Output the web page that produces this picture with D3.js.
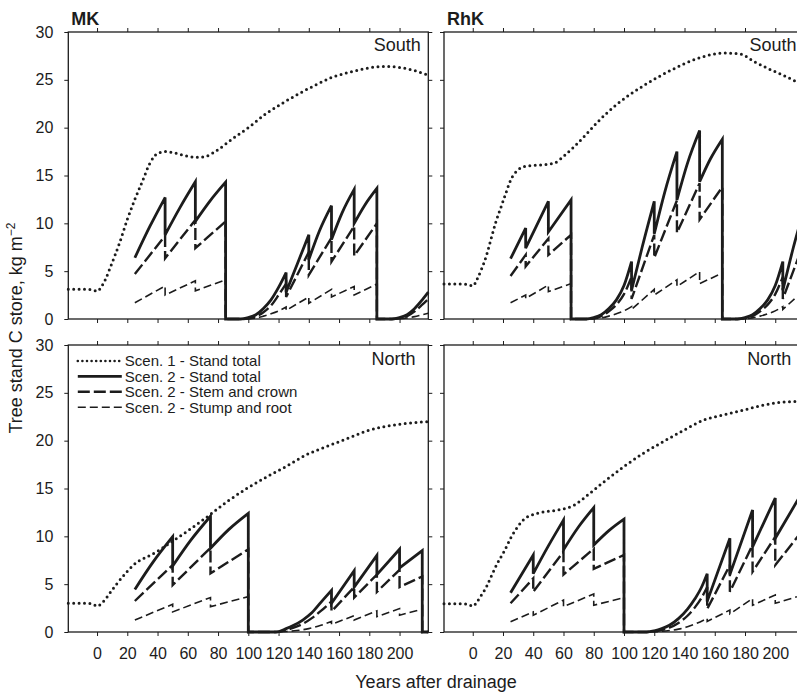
<!DOCTYPE html>
<html>
<head>
<meta charset="utf-8">
<script src="https://cdn.jsdelivr.net/npm/d3@7"></script>
<style>
  body { margin: 0; background: #fff; overflow: hidden; }
  svg { display: block; font-family: "Liberation Sans", Arial, Helvetica, sans-serif; }
</style>
</head>
<body>
<div id="chart"></div>
<script>
// values: [years after drainage, kg C m-2]
const xTicks = [0, 20, 40, 60, 80, 100, 120, 140, 160, 180, 200];
const yTicks = [0, 5, 10, 15, 20, 25, 30];
const siteNames = ["MK", "RhK"];
const regionNames = ["South", "North"];
const seriesNames = ["Scen. 1 - Stand total", "Scen. 2 - Stand total", "Scen. 2 - Stem and crown", "Scen. 2 - Stump and root"];

// MK, South
const mkSouthScen1 = [[-19,3.1],[-10,3.1],[-3,3.05],[0,2.9],[3,3.4],[6,4.3],[9,5.5],[15,8.0],[20,10.4],[25,12.5],[30,14.4],[35,16.3],[40,17.3],[45,17.5],[50,17.4],[55,17.2],[60,17.0],[66,16.9],[72,17.0],[79,17.6],[90,18.9],[100,20.0],[112,21.5],[123,22.6],[134,23.6],[145,24.5],[156,25.3],[167,25.8],[178,26.2],[190,26.4],[200,26.3],[209,26.0],[219,25.5]];
const mkSouthTotal = [[25,6.4],[35,9.7],[45,12.7],[45,8.8],[55,11.7],[65,14.35],[65,10.2],[75,12.4],[85,14.3],[85,0],[95,0],[100,0.15],[105,0.45],[110,1.1],[115,2.0],[120,3.3],[125,4.85],[125,2.8],[132,5.6],[140,8.8],[140,6.2],[147,9.2],[155,11.85],[155,8.3],[162,11.1],[170,13.55],[170,10.0],[177,11.9],[185,13.65],[185,0],[195,0],[200,0.15],[205,0.45],[210,1.1],[215,2.0],[219,2.8]];
const mkSouthStem = [[25,4.7],[45,8.7],[45,6.35],[65,10.35],[65,7.4],[85,10.2],[85,0],[95,0],[100,0.05],[105,0.25],[110,0.7],[115,1.4],[120,2.5],[125,3.7],[125,2.3],[140,7.0],[140,4.6],[155,8.5],[155,6.0],[170,9.7],[170,6.6],[185,10.0],[185,0],[195,0],[200,0.08],[205,0.3],[210,0.8],[215,1.5],[219,2.1]];
const mkSouthStump = [[25,1.7],[45,3.45],[45,2.5],[65,4.0],[65,2.95],[85,4.1],[85,0],[95,0],[100,0.03],[105,0.1],[110,0.3],[115,0.55],[120,0.85],[125,1.25],[125,0.9],[140,2.3],[140,1.65],[155,3.1],[155,2.3],[170,3.4],[170,2.5],[185,3.65],[185,0],[195,0],[200,0.02],[205,0.1],[210,0.25],[215,0.45],[219,0.6]];

// RhK, South
const rhkSouthScen1 = [[-19,3.65],[-10,3.65],[-3,3.6],[0,3.45],[3,4.2],[5.5,5.1],[9,6.6],[12,8.3],[15,10.0],[18.7,11.7],[22,13.2],[25,14.5],[30,15.6],[36,16.0],[45,16.1],[54,16.3],[60,17.0],[67,18.0],[75,19.3],[82,20.5],[95,22.4],[113,24.4],[131,26.0],[148,27.2],[166,27.8],[177,27.7],[186,26.9],[195,26.2],[205,25.5],[214,24.8],[219,24.4]];
const rhkSouthTotal = [[25,6.3],[35,9.5],[35,7.4],[50,12.3],[50,9.1],[65,12.45],[65,0],[75,0],[80,0.15],[85,0.45],[90,1.1],[95,2.0],[100,3.5],[105,6.0],[105,3.0],[112,7.5],[120,12.3],[120,8.9],[127,13.3],[135,17.5],[135,12.45],[142,16.3],[150,19.7],[150,14.35],[157,16.7],[165,18.8],[165,0],[175,0],[180,0.15],[185,0.45],[190,1.1],[195,2.0],[200,3.5],[205,6.0],[205,3.0],[212,7.5],[219,11.5]];
const rhkSouthStem = [[25,4.5],[35,6.7],[35,5.5],[50,8.4],[50,6.7],[65,8.8],[65,0],[75,0],[80,0.08],[85,0.3],[90,0.8],[95,1.5],[100,2.6],[105,4.4],[105,2.1],[120,8.8],[120,6.4],[135,12.4],[135,9.0],[150,14.2],[150,10.4],[165,13.8],[165,0],[175,0],[180,0.08],[185,0.3],[190,0.8],[195,1.5],[200,2.6],[205,4.4],[205,2.1],[219,8.0]];
const rhkSouthStump = [[25,1.7],[35,2.5],[35,2.15],[50,3.55],[50,2.85],[65,3.7],[65,0],[75,0],[80,0.03],[85,0.12],[90,0.3],[95,0.55],[100,0.85],[105,1.3],[105,1.0],[120,3.1],[120,2.5],[135,4.1],[135,3.4],[150,4.95],[150,3.7],[165,4.8],[165,0],[175,0],[180,0.03],[185,0.12],[190,0.3],[195,0.55],[200,0.85],[205,1.3],[205,1.0],[219,3.0]];

// MK, North
const mkNorthScen1 = [[-19,3.0],[-10,3.0],[-3,2.95],[0,2.7],[3,3.0],[6.6,3.66],[10,4.4],[13.2,5.06],[19.8,6.3],[26.4,7.3],[33,7.85],[39.6,8.4],[46,9.07],[59.3,10.5],[72.5,12.0],[85.7,13.6],[99,15.0],[112,16.2],[125,17.3],[138,18.5],[152,19.4],[165,20.2],[178,21.0],[191,21.5],[204,21.8],[219,22.0]];
const mkNorthTotal = [[25,4.45],[37,7.3],[50,9.96],[50,6.9],[62,9.6],[75,12.1],[75,8.75],[87,10.7],[100,12.4],[100,0],[118,0],[125,0.35],[130,0.7],[136,1.25],[142,2.0],[148,3.1],[155,4.35],[155,3.0],[170,6.4],[170,4.7],[185,8.0],[185,6.0],[200,8.65],[200,6.7],[215,8.5],[215,0],[219,0]];
const mkNorthStem = [[25,3.24],[50,7.0],[50,4.9],[75,8.8],[75,6.13],[100,8.64],[100,0],[118,0],[125,0.2],[130,0.45],[136,0.85],[142,1.45],[148,2.2],[155,3.2],[155,2.15],[170,4.7],[170,3.6],[185,6.0],[185,4.2],[200,6.5],[200,4.7],[215,5.8],[215,0],[219,0]];
const mkNorthStump = [[25,1.25],[50,2.9],[50,2.1],[75,3.6],[75,2.65],[100,3.7],[100,0],[118,0],[125,0.05],[132,0.15],[140,0.35],[148,0.7],[155,1.1],[155,0.8],[170,1.7],[170,1.25],[185,2.2],[185,1.6],[200,2.45],[200,1.75],[215,2.4],[215,0],[219,0]];

// RhK, North
const rhkNorthScen1 = [[-19,2.96],[-10,2.96],[-3,2.9],[0,2.7],[3,3.2],[5.5,3.8],[9,4.7],[12,5.75],[16,7.1],[21,8.5],[25,9.8],[29.7,11.0],[34,11.8],[38.5,12.2],[47,12.55],[58,12.8],[67,13.25],[75.8,14.3],[86.8,15.7],[100,17.3],[113,18.7],[126,19.9],[139.6,21.1],[152.7,22.15],[166,22.7],[179,23.2],[192,23.7],[203,24.0],[214,24.1],[219,24.15]];
const rhkNorthTotal = [[25,4.1],[40,8.05],[40,6.1],[50,9.0],[60,11.7],[60,8.6],[70,11.0],[80,13.0],[80,9.1],[90,10.6],[100,11.8],[100,0],[115,0],[120,0.12],[125,0.35],[130,0.7],[136,1.4],[142,2.4],[147,3.5],[151,4.6],[155,6.1],[155,3.2],[170,9.8],[170,6.0],[185,12.75],[185,8.9],[200,14.0],[200,9.8],[219,14.9]];
const rhkNorthStem = [[25,3.0],[40,5.6],[40,4.2],[60,8.4],[60,6.0],[80,8.7],[80,6.6],[100,8.05],[100,0],[115,0],[120,0.06],[125,0.2],[130,0.45],[136,0.95],[142,1.7],[147,2.6],[151,3.5],[155,4.7],[155,2.4],[170,7.0],[170,4.2],[185,9.1],[185,6.3],[200,9.95],[200,7.0],[219,10.8]];
const rhkNorthStump = [[25,1.08],[40,2.1],[40,1.75],[60,3.34],[60,2.65],[80,3.97],[80,2.8],[100,3.6],[100,0],[115,0],[120,0.02],[125,0.07],[130,0.15],[136,0.3],[142,0.55],[148,0.9],[155,1.43],[155,1.1],[170,2.3],[170,1.9],[185,3.5],[185,2.8],[200,3.87],[200,3.0],[219,3.9]];

const panels = [
  { col: 0, row: 0, series: [mkSouthScen1, mkSouthTotal, mkSouthStem, mkSouthStump] },
  { col: 1, row: 0, series: [rhkSouthScen1, rhkSouthTotal, rhkSouthStem, rhkSouthStump] },
  { col: 0, row: 1, series: [mkNorthScen1, mkNorthTotal, mkNorthStem, mkNorthStump] },
  { col: 1, row: 1, series: [rhkNorthScen1, rhkNorthTotal, rhkNorthStem, rhkNorthStump] }
];

const width = 797, height = 695;
const panelW = 360, panelH = 287;
const colX = [68.3, 444];
const rowY = [32, 345];
const ink = "#1c1c1c";

// dotted, solid, long dash, short dash
const styles = [
  { width: 3, dash: "0,5.4", cap: "round" },
  { width: 2.8, dash: null, cap: "butt" },
  { width: 2.4, dash: "12,4", cap: "butt" },
  { width: 1.6, dash: "8,4", cap: "butt" }
];

const svg = d3.select("#chart").append("svg")
  .attr("width", width)
  .attr("height", height);

// saw-tooth series: smooth pieces between thinnings, straight drops
const sawPath = (pts, x, y) => {
  const line = d3.line().x(d => x(d[0])).y(d => y(d[1])).curve(d3.curveMonotoneX);
  const runs = [];
  let cur = [pts[0]];
  for (let i = 1; i < pts.length; i++) {
    if (pts[i][0] === pts[i - 1][0]) {
      runs.push(cur);
      runs.push([pts[i - 1], pts[i]]);
      cur = [pts[i]];
    } else {
      cur.push(pts[i]);
    }
  }
  runs.push(cur);
  return runs.filter(r => r.length > 1)
    .map((r, i) => { const s = line(r); return i ? "L" + s.slice(1) : s; })
    .join("");
};

const styleAxis = (sel) => {
  sel.select(".domain").remove();
  sel.selectAll(".tick line").attr("stroke", ink).attr("stroke-width", 1);
  sel.selectAll("text")
    .attr("fill", ink)
    .attr("font-size", 16)
    .attr("font-family", "Liberation Sans, Arial, sans-serif");
};

panels.forEach(p => {
  const g = svg.append("g").attr("transform", `translate(${colX[p.col]},${rowY[p.row]})`);
  const x = d3.scaleLinear().domain([-19, 219]).range([0, panelW]);
  const y = d3.scaleLinear().domain([0, 30]).range([panelH, 0]);

  g.append("g").attr("transform", `translate(0,${panelH})`)
    .call(d3.axisBottom(x).tickValues(xTicks).tickSize(4).tickSizeOuter(0).tickPadding(12)
      .tickFormat(p.row === 1 ? d3.format("d") : ""))
    .call(styleAxis);
  g.append("g")
    .call(d3.axisTop(x).tickValues(xTicks).tickSize(4).tickSizeOuter(0).tickFormat(""))
    .call(styleAxis);
  g.append("g")
    .call(d3.axisLeft(y).tickValues(yTicks).tickSize(4).tickSizeOuter(0).tickPadding(11)
      .tickFormat(p.col === 0 ? d3.format("d") : ""))
    .call(styleAxis);
  g.append("g").attr("transform", `translate(${panelW},0)`)
    .call(d3.axisRight(y).tickValues(yTicks).tickSize(4).tickSizeOuter(0).tickFormat(""))
    .call(styleAxis);

  // draw order: dotted, stump, stem, total on top
  [0, 3, 2, 1].forEach(k => {
    const st = styles[k];
    const d = k === 0
      ? d3.line().x(v => x(v[0])).y(v => y(v[1])).curve(d3.curveMonotoneX)(p.series[k])
      : sawPath(p.series[k], x, y);
    g.append("path")
      .attr("d", d)
      .attr("fill", "none")
      .attr("stroke", ink)
      .attr("stroke-width", st.width)
      .attr("stroke-linecap", st.cap)
      .attr("stroke-linejoin", "miter")
      .attr("stroke-dasharray", st.dash);
  });

  g.append("rect")
    .attr("width", panelW).attr("height", panelH)
    .attr("fill", "none").attr("stroke", ink).attr("stroke-width", 1.3);

  if (p.row === 0) {
    g.append("text").attr("x", 3).attr("y", -7)
      .attr("font-size", 18).attr("font-weight", "bold").attr("fill", ink)
      .text(siteNames[p.col]);
  }
  g.append("text")
    .attr("x", p.row === 0 ? x(214) : x(210.5))
    .attr("y", p.row === 0 ? 18.5 : 20)
    .attr("text-anchor", "end").attr("font-size", 18).attr("fill", ink)
    .text(regionNames[p.row]);

  // legend in the lower-left panel
  if (p.row === 1 && p.col === 0) {
    const lg = g.append("g").attr("transform", "translate(9.5,16)");
    seriesNames.forEach((name, i) => {
      const st = styles[i];
      const yy = i * 15.4;
      lg.append("line")
        .attr("x1", 0).attr("x2", 44).attr("y1", yy).attr("y2", yy)
        .attr("stroke", ink)
        .attr("stroke-width", i === 0 ? 2.6 : st.width)
        .attr("stroke-linecap", st.cap)
        .attr("stroke-dasharray", i === 0 ? "0,4.6" : st.dash);
      lg.append("text")
        .attr("x", 47).attr("y", yy).attr("dy", "0.36em")
        .attr("font-size", 15).attr("fill", ink)
        .text(name);
    });
  }
});

svg.append("text")
  .attr("transform", "translate(22,328) rotate(-90)")
  .attr("text-anchor", "middle").attr("font-size", 18).attr("fill", ink)
  .text("Tree stand C store, kg m")
  .append("tspan").attr("dy", -7).attr("font-size", 12).text("\u22122");

svg.append("text")
  .attr("x", 436).attr("y", 688)
  .attr("text-anchor", "middle").attr("font-size", 18).attr("fill", ink)
  .text("Years after drainage");
</script>
</body>
</html>
